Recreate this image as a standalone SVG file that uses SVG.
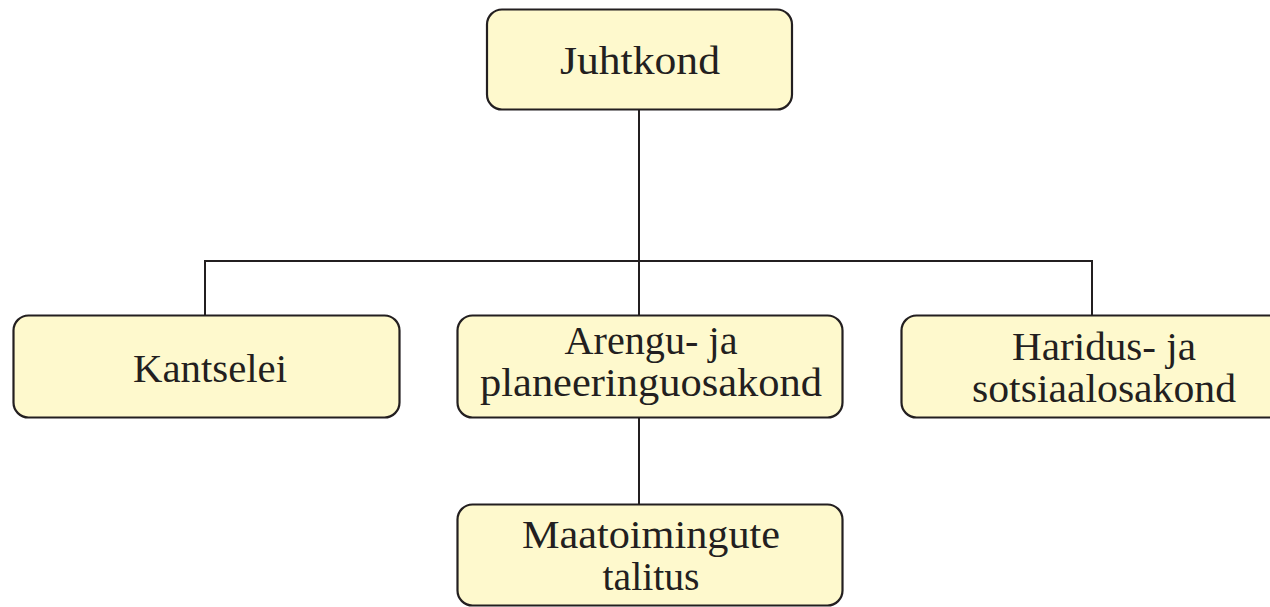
<svg xmlns="http://www.w3.org/2000/svg" width="1270" height="607" viewBox="0 0 1270 607">
<style>
.box{fill:#fef9cd;stroke:#231f20;stroke-width:2.2}
.lbl{font-family:"Liberation Serif","Times New Roman",serif;font-size:39px;fill:#231f20;text-anchor:middle}
.con{fill:none;stroke:#231f20;stroke-width:2}
</style>
<rect width="1270" height="607" fill="#ffffff"/>
<g id="connectors">
<path class="con" d="M639 109V261M205 315V261H1092V315M639 261V315M639 418V504"/>
</g>
<g id="juhtkond">
<rect class="box" x="487" y="9.5" width="305" height="100" rx="15"/>
<text class="lbl" x="640" y="74" font-size="41" textLength="160" lengthAdjust="spacingAndGlyphs">Juhtkond</text>
</g>
<g id="kantselei">
<rect class="box" x="13.5" y="315.5" width="386" height="102" rx="15"/>
<text class="lbl" x="210" y="382" font-size="41" textLength="154" lengthAdjust="spacingAndGlyphs">Kantselei</text>
</g>
<g id="arengu">
<rect class="box" x="457.5" y="315.5" width="385" height="102" rx="15"/>
<text class="lbl" x="651" y="354" textLength="173" lengthAdjust="spacingAndGlyphs">Arengu- ja</text>
<text class="lbl" x="651" y="396" textLength="342" lengthAdjust="spacingAndGlyphs">planeeringuosakond</text>
</g>
<g id="haridus">
<rect class="box" x="901.5" y="315.5" width="405" height="102" rx="15"/>
<text class="lbl" x="1104" y="360" textLength="184" lengthAdjust="spacingAndGlyphs">Haridus- ja</text>
<text class="lbl" x="1104" y="402" textLength="264" lengthAdjust="spacingAndGlyphs">sotsiaalosakond</text>
</g>
<g id="maatoimingute">
<rect class="box" x="457.5" y="504.5" width="385" height="101" rx="15"/>
<text class="lbl" x="651" y="548" textLength="258" lengthAdjust="spacingAndGlyphs">Maatoimingute</text>
<text class="lbl" x="651" y="590" textLength="97" lengthAdjust="spacingAndGlyphs">talitus</text>
</g>
</svg>
